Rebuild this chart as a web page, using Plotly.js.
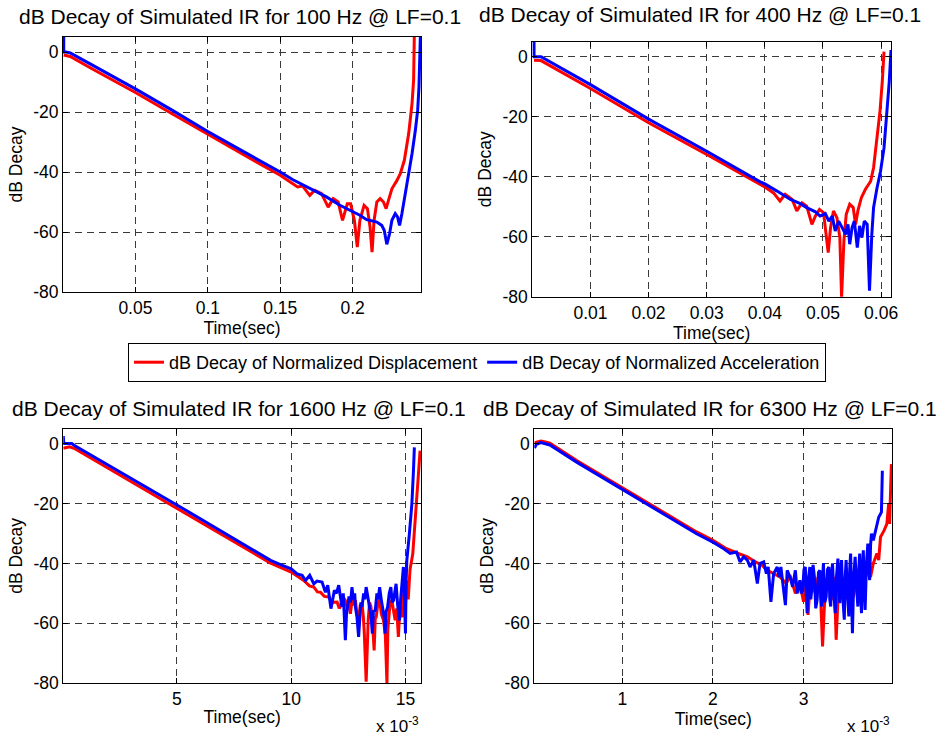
<!DOCTYPE html>
<html><head><meta charset="utf-8">
<script src="https://cdn.plot.ly/plotly-3.0.1.min.js"></script>
<style>html,body{margin:0;padding:0;background:#fff}</style>
</head><body><div id="chart" style="width:945px;height:738px"></div>
<script>
// ---------- DATA ----------
// 100 Hz (time in s)
const f100RedT  = [0.0005,0.005,0.02,0.05,0.075,0.1,0.125,0.1356,0.15,0.1588,0.162,0.1655,0.1704,0.1738,0.1785,0.1831,0.1866,0.19,0.193,0.1963,0.1986,0.2012,0.2032,0.205,0.2079,0.2102,0.212,0.2134,0.2148,0.2167,0.219,0.2213,0.2231,0.2248,0.2271,0.2306,0.2329,0.2357,0.2387,0.241,0.2421,0.2426];
const f100RedDb = [-1.0,-1.5,-5.6,-13.5,-20.5,-27.5,-34.5,-37.2,-41.1,-43.9,-45,-44.7,-47.8,-46.1,-47.2,-51.7,-48.9,-50,-56.1,-50.6,-50.6,-56.1,-65,-56.1,-51.1,-52.2,-58.3,-66.7,-56.1,-50,-48.9,-50,-52.2,-49.4,-45.6,-42.8,-40.6,-36.1,-27.2,-17.2,-9.4,6];
const f100BlueT  = [0.0005,0.0005,0.002,0.005,0.02,0.05,0.075,0.1,0.125,0.1356,0.15,0.1588,0.1704,0.1819,0.1912,0.2005,0.205,0.2097,0.2167,0.2201,0.2218,0.2236,0.2255,0.2271,0.2294,0.231,0.2324,0.234,0.2363,0.2387,0.241,0.2433,0.2449,0.2458,0.2468];
const f100BlueDb = [6,0,0,-0.3,-4.3,-12.3,-19.3,-26.5,-33.3,-36.1,-40,-42.6,-45.6,-48.3,-51.1,-53.3,-54.4,-55.9,-56.7,-57.8,-59.4,-64.1,-60.6,-56.1,-53.9,-55,-57.8,-53.9,-47.2,-41.7,-33.9,-26.1,-19.4,-11.7,6];

// 400 Hz (time in s)
const f400RedT  = [0.0003,0.0015,0.01,0.02,0.03,0.0392,0.04,0.0415,0.0426,0.0435,0.0447,0.0455,0.0464,0.0472,0.0481,0.0487,0.0494,0.0501,0.0506,0.0509,0.0513,0.0518,0.0524,0.0529,0.0532,0.0536,0.054,0.0546,0.0552,0.0556,0.056,0.0566,0.0573,0.0582,0.0587,0.0593,0.0598,0.0602,0.0605];
const f400RedDb = [-1.2,-1.3,-10.6,-22.0,-32.6,-42.6,-43.4,-45.4,-48.1,-45.9,-47.6,-51.4,-48.7,-49.8,-55.9,-53.1,-50.9,-52,-59.2,-65.3,-57,-51.4,-53.7,-60.3,-80.2,-61.4,-52.5,-49.2,-50.3,-55.9,-51.4,-47,-44.2,-41.5,-37,-27.1,-18.3,-8.3,1.7];
const f400BlueT  = [0.0003,0.0003,0.0015,0.01,0.02,0.03,0.0392,0.04,0.0421,0.0444,0.0461,0.0472,0.0487,0.0495,0.0504,0.051,0.0516,0.0521,0.0527,0.0533,0.0539,0.0543,0.0546,0.055,0.0554,0.0559,0.0563,0.0567,0.0571,0.0576,0.058,0.0584,0.0587,0.0593,0.0599,0.0605,0.061,0.0614,0.0617];
const f400BlueDb = [6,0,0,-9.3,-20.8,-31.5,-41.7,-42.4,-44.8,-47.6,-49,-50.3,-51.7,-53.1,-52.3,-54.8,-53.1,-58.1,-54.8,-57,-59.2,-55.9,-62.5,-57,-54.8,-63.6,-56.4,-60.3,-54.8,-55.9,-78,-59.2,-50.3,-43.7,-38.2,-30.4,-19.4,-8.3,2.2];

// 1600 Hz (time in ms)
const f1600RedT  = [0.03,0.3,0.5,5,9.1,10,10.3,10.55,10.8,10.99,11.15,11.28,11.45,11.64,11.8,12.01,12.1,12.15,12.25,12.37,12.45,12.52,12.59,12.68,12.75,12.81,12.88,12.95,13.02,13.1,13.16,13.2,13.28,13.33,13.37,13.43,13.49,13.56,13.63,13.68,13.72,13.8,13.87,13.95,14.04,14.12,14.19,14.23,14.27,14.33,14.4,14.47,14.55,14.62,14.69,14.75,14.8,14.86,14.91,14.98,15.06,15.12,15.2,15.32,15.42,15.54,15.64];
const f1600RedDb = [-1.6,-1.1,-1.6,-21.6,-39.9,-42.9,-44.5,-45.7,-47.5,-47.9,-49.5,-49.6,-51,-51.2,-53,-52.9,-55,-54.5,-51,-52.3,-55,-53,-56.8,-51.5,-54,-52.3,-57,-59,-54,-53.4,-58,-63.4,-79.5,-62,-59,-53,-54.5,-60,-69,-58,-57.9,-53,-52.3,-57,-59,-64,-80,-62,-59,-53,-52.3,-56,-59,-55,-64.5,-56,-54.5,-58,-50.1,-56,-45.7,-52,-42,-36.8,-25.7,-14.6,-2.4];
const f1600BlueT  = [0.03,0.05,0.4,0.5,5,9.1,9.53,10,10.26,10.48,10.63,10.81,10.99,11.13,11.35,11.5,11.6,11.74,11.89,11.98,12.08,12.15,12.22,12.28,12.33,12.37,12.42,12.47,12.53,12.6,12.66,12.72,12.78,12.81,12.88,12.95,13.0,13.05,13.1,13.17,13.22,13.28,13.35,13.43,13.5,13.55,13.6,13.68,13.75,13.81,13.87,13.94,14.01,14.07,14.11,14.16,14.22,14.29,14.36,14.42,14.48,14.53,14.59,14.66,14.74,14.79,14.84,14.91,14.96,15,15.03,15.06,15.17,15.28,15.35,15.39];
const f1600BlueDb = [2.5,0,0,-0.6,-20.5,-39,-40.4,-41.8,-43.5,-44,-45.7,-44,-46.8,-45.9,-46.2,-49.6,-47.3,-55.1,-49,-50,-47.3,-52,-54.5,-50,-58,-65.6,-57,-54.5,-51,-53,-47.9,-52,-50,-54.5,-58,-64.5,-57,-53,-54.5,-50,-52,-47.9,-51,-54.5,-58,-63.4,-56,-55.7,-50,-52,-47.9,-52,-55.7,-58,-63.4,-56,-54.5,-50,-47.9,-53,-52.3,-50,-46.8,-54,-59,-52,-47.9,-41.2,-52,-63.4,-46,-39,-30.2,-20.2,-9.1,-1.3];

// 6300 Hz (time in ms)
const f6300RedT  = [0.03,0.1,0.15,0.2,0.5,1.0,1.5,1.64,1.82,2.0,2.15,2.28,2.38,2.47,2.54,2.6,2.67,2.74,2.81,2.85,2.91,2.96,3.0,3.03,3.05,3.08,3.13,3.16,3.19,3.21,3.24,3.28,3.31,3.34,3.36,3.39,3.45,3.5,3.55,3.61,3.65,3.7,3.74,3.77,3.81,3.83,3.85,3.89,3.92,3.94,3.95,3.97];
const f6300RedDb = [0.3,0.8,0.5,0.1,-5.8,-14.8,-23.8,-26.2,-29.5,-32.3,-35.1,-36.7,-37.8,-39.5,-40.6,-42.3,-43.4,-44.5,-46.7,-43.9,-50,-46.7,-52.8,-46.7,-57.2,-44.5,-50,-44.5,-52.2,-67.7,-47.8,-44.5,-52.2,-44.5,-65.5,-45.6,-51.1,-43.4,-51.1,-42.3,-50,-41.2,-44.5,-40,-36.7,-38.9,-31.2,-29,-26.8,-20.1,-26.8,-6.9];
const f6300BlueT  = [0.03,0.05,0.1,0.15,0.2,0.5,1.0,1.5,1.64,1.82,2.0,2.12,2.19,2.26,2.3,2.34,2.38,2.41,2.45,2.49,2.52,2.56,2.59,2.61,2.64,2.67,2.71,2.73,2.75,2.8,2.82,2.85,2.88,2.91,2.93,2.96,2.975,2.99,3.005,3.02,3.03,3.04,3.055,3.07,3.08,3.09,3.105,3.12,3.135,3.15,3.165,3.18,3.19,3.2,3.21,3.22,3.235,3.25,3.265,3.28,3.29,3.3,3.31,3.32,3.335,3.35,3.365,3.38,3.39,3.4,3.41,3.42,3.435,3.45,3.46,3.47,3.485,3.5,3.51,3.52,3.53,3.54,3.555,3.57,3.585,3.6,3.61,3.62,3.63,3.64,3.65,3.66,3.67,3.68,3.695,3.71,3.72,3.73,3.74,3.75,3.77,3.8,3.83,3.86,3.87];
const f6300BlueDb = [-1.5,-0.3,0.3,0,-0.5,-6.3,-15.3,-24.3,-26.8,-30.1,-32.9,-35.1,-36.7,-36.2,-39.5,-37.8,-38.9,-41.2,-38.9,-46.7,-40,-39.5,-43.4,-41.2,-52.8,-43.4,-41.2,-44.5,-41.2,-53.9,-42.3,-44.5,-47.8,-42.3,-50,-45.6,-50,-48.9,-42,-41.2,-50,-56.6,-45,-41.2,-52,-48.9,-40.5,-44.5,-55,-52.2,-43,-42.3,-50,-54.4,-45,-40,-53,-51.1,-42,-41.2,-52,-54.4,-44,-40,-50,-56.6,-44,-38.4,-48,-53.3,-43,-38.9,-52,-58.8,-45,-38.9,-50,-57.7,-42,-36.7,-52,-63.3,-44,-37.8,-48,-54.4,-42,-36.7,-50,-56.6,-42,-35.6,-48,-55.5,-40,-33.4,-42,-45.6,-34,-30.1,-32.3,-27.9,-24.6,-22.9,-9.1];

// Titles / ticks
const panelTitles = [
  'dB Decay of Simulated IR for 100 Hz @ LF=0.1',
  'dB Decay of Simulated IR for 400 Hz @ LF=0.1',
  'dB Decay of Simulated IR for 1600 Hz @ LF=0.1',
  'dB Decay of Simulated IR for 6300 Hz @ LF=0.1'
];
const seriesNames = ['dB Decay of Normalized Displacement','dB Decay of Normalized Acceleration'];
const yTickVals = [0,-20,-40,-60,-80];
const yTickText = ['0','-20','-40','-60','-80'];
const x1TickVals = [0.05,0.1,0.15,0.2];         const x1TickText = ['0.05','0.1','0.15','0.2'];
const x2TickVals = [0.01,0.02,0.03,0.04,0.05,0.06]; const x2TickText = ['0.01','0.02','0.03','0.04','0.05','0.06'];
const x3TickVals = [5,10,15];                    const x3TickText = ['5','10','15'];
const x4TickVals = [1,2,3];                      const x4TickText = ['1','2','3'];

// ---------- PLOT ----------
const FONT = 'Liberation Sans, Arial, sans-serif';
const RED = '#ff0000', BLUE = '#0000ff';
const LW = 3;
const ms = a => a.map(v => v * 1e-3);

function tr(x, y, color, name, xa, ya, show) {
  return {x, y, type:'scatter', mode:'lines', name, showlegend:show,
    line:{color, width:LW}, xaxis:xa, yaxis:ya, hoverinfo:'skip'};
}
const data = [
  tr(f100RedT, f100RedDb, RED, seriesNames[0], 'x', 'y', true),
  tr(f100BlueT, f100BlueDb, BLUE, seriesNames[1], 'x', 'y', true),
  tr(f400RedT, f400RedDb, RED, seriesNames[0], 'x2', 'y2', false),
  tr(f400BlueT, f400BlueDb, BLUE, seriesNames[1], 'x2', 'y2', false),
  tr(ms(f1600RedT), f1600RedDb, RED, seriesNames[0], 'x3', 'y3', false),
  tr(ms(f1600BlueT), f1600BlueDb, BLUE, seriesNames[1], 'x3', 'y3', false),
  tr(ms(f6300RedT), f6300RedDb, RED, seriesNames[0], 'x4', 'y4', false),
  tr(ms(f6300BlueT), f6300BlueDb, BLUE, seriesNames[1], 'x4', 'y4', false)
];

const W = 945, H = 738;
const px = v => v / W, py = v => 1 - v / H;
const TICK = 17.5;
const common = {
  showline:true, linecolor:'#000', linewidth:1, mirror:'ticks',
  ticks:'inside', ticklen:5, tickcolor:'#000', tickwidth:1,
  showgrid:true, gridcolor:'#3a3a3a', griddash:'7px,5px', gridwidth:1,
  zeroline:false, automargin:false, fixedrange:true,
  tickfont:{family:FONT, size:TICK, color:'#000'}
};
function xax(dom, range, tv, tt, anchor) {
  return Object.assign({}, common, {domain:dom, range, tickvals:tv, ticktext:tt, anchor,
    title:{text:'Time(sec)', font:{family:FONT, size:17.5, color:'#000'}, standoff:2}});
}
function yax(dom, anchor) {
  return Object.assign({}, common, {domain:dom, range:[-80,5], tickvals:yTickVals, ticktext:yTickText, anchor,
    title:{text:'dB Decay', font:{family:FONT, size:17.5, color:'#000'}, standoff:6}});
}

const layout = {
  width:W, height:H, margin:{l:0,r:0,t:0,b:0},
  paper_bgcolor:'#fff', plot_bgcolor:'#fff',
  font:{family:FONT, size:16, color:'#000'},
  xaxis:  xax([px(63), px(421)],   [0, 0.2472], x1TickVals, x1TickText, 'y'),
  yaxis:  yax([py(292), py(37)], 'x'),
  xaxis2: xax([px(532.3), px(891)], [0, 0.0617], x2TickVals, x2TickText, 'y2'),
  yaxis2: yax([py(296.7), py(41.7)], 'x2'),
  xaxis3: xax([px(63.3), px(421)], [0.00003, 0.01568], ms(x3TickVals), x3TickText, 'y3'),
  yaxis3: yax([py(683.3), py(428.5)], 'x3'),
  xaxis4: xax([px(534.3), px(892.3)], [0.000028, 0.00398], ms(x4TickVals), x4TickText, 'y4'),
  yaxis4: yax([py(683.3), py(428.5)], 'x4'),
  showlegend:true,
  legend:{orientation:'h', x:px(477), xanchor:'center', y:py(362.5), yanchor:'middle',
    bordercolor:'#000', borderwidth:1, bgcolor:'#fff',
    font:{family:FONT, size:18, color:'#000'}, itemclick:false, itemdoubleclick:false},
  annotations:[
    {text:panelTitles[0], x:px(240), y:py(16), xref:'paper', yref:'paper', showarrow:false, xanchor:'center', yanchor:'middle', font:{family:FONT, size:21, color:'#000'}},
    {text:panelTitles[1], x:px(700), y:py(15), xref:'paper', yref:'paper', showarrow:false, xanchor:'center', yanchor:'middle', font:{family:FONT, size:21, color:'#000'}},
    {text:panelTitles[2], x:px(239), y:py(408), xref:'paper', yref:'paper', showarrow:false, xanchor:'center', yanchor:'middle', font:{family:FONT, size:21, color:'#000'}},
    {text:panelTitles[3], x:px(710), y:py(408), xref:'paper', yref:'paper', showarrow:false, xanchor:'center', yanchor:'middle', font:{family:FONT, size:21, color:'#000'}},
    {text:'x 10<sup>-3</sup>', x:px(421), y:py(725), xref:'paper', yref:'paper', showarrow:false, xanchor:'right', yanchor:'middle', font:{family:FONT, size:17, color:'#000'}},
    {text:'x 10<sup>-3</sup>', x:px(892), y:py(725), xref:'paper', yref:'paper', showarrow:false, xanchor:'right', yanchor:'middle', font:{family:FONT, size:17, color:'#000'}}
  ]
};

Plotly.newPlot('chart', data, layout, {displayModeBar:false, staticPlot:true});
</script></body></html>
